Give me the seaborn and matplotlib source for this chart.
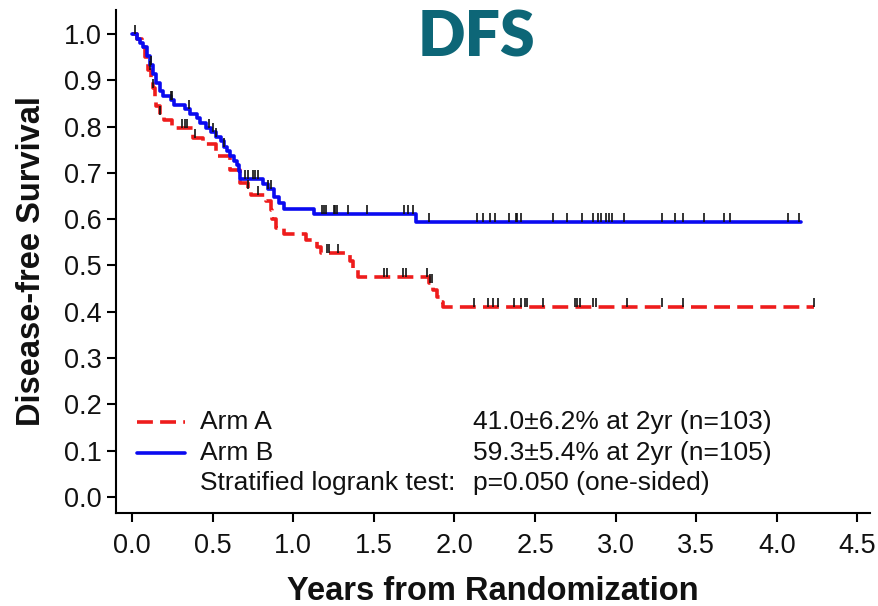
import numpy as np
import pandas as pd
import matplotlib
matplotlib.use("Agg")
import matplotlib.pyplot as plt
from matplotlib.path import Path
import seaborn as sns

# Kaplan-Meier step estimates (years, survival after each event)
arm_a_times = [0.00, 0.03, 0.06, 0.08, 0.10, 0.12, 0.13, 0.14, 0.15, 0.17, 0.20,
               0.25, 0.38, 0.44, 0.52, 0.61, 0.67, 0.72, 0.74, 0.83, 0.86, 0.87,
               0.89, 0.94, 1.08, 1.15, 1.17, 1.35, 1.37, 1.40, 1.84, 1.87, 1.89,
               1.91, 1.93]
arm_a_surv = [1.000, 0.990, 0.971, 0.951, 0.922, 0.903, 0.884, 0.864, 0.845, 0.825,
              0.815, 0.796, 0.776, 0.762, 0.737, 0.706, 0.678, 0.665, 0.652, 0.640,
              0.620, 0.600, 0.580, 0.568, 0.555, 0.540, 0.527, 0.510, 0.490, 0.475,
              0.462, 0.447, 0.432, 0.421, 0.410]
arm_a_end = 4.23
arm_a_censor = [0.11, 0.13, 0.17, 0.31, 0.33, 0.34, 0.39, 0.72, 0.78, 1.21, 1.22,
                1.28, 1.56, 1.58, 1.68, 1.70, 1.83, 1.85, 1.86, 2.12, 2.21, 2.24,
                2.27, 2.37, 2.41, 2.44, 2.45, 2.55, 2.75, 2.76, 2.78, 2.86, 2.88,
                3.07, 3.29, 3.42, 4.23]

arm_b_times = [0.00, 0.03, 0.05, 0.07, 0.09, 0.11, 0.13, 0.15, 0.17, 0.19, 0.24,
               0.26, 0.33, 0.36, 0.40, 0.42, 0.46, 0.49, 0.52, 0.55, 0.57, 0.59,
               0.61, 0.63, 0.65, 0.66, 0.67, 0.81, 0.84, 0.88, 0.91, 0.94, 1.13,
               1.76]
arm_b_surv = [1.000, 0.990, 0.981, 0.971, 0.952, 0.933, 0.914, 0.895, 0.876, 0.866,
              0.857, 0.847, 0.838, 0.828, 0.818, 0.808, 0.798, 0.788, 0.778, 0.768,
              0.757, 0.747, 0.737, 0.726, 0.716, 0.705, 0.687, 0.676, 0.665, 0.648,
              0.635, 0.622, 0.611, 0.593]
arm_b_end = 4.15
arm_b_censor = [0.02, 0.12, 0.24, 0.25, 0.35, 0.48, 0.50, 0.52, 0.57, 0.70, 0.72,
                0.75, 0.76, 0.78, 0.84, 0.86, 1.18, 1.19, 1.20, 1.25, 1.26, 1.27,
                1.34, 1.46, 1.69, 1.71, 1.745, 1.84, 2.14, 2.18, 2.22, 2.25, 2.34,
                2.38, 2.39, 2.41, 2.61, 2.70, 2.79, 2.86, 2.89, 2.91, 2.94, 2.96,
                2.98, 3.05, 3.29, 3.37, 3.42, 3.55, 3.67, 3.71, 4.07, 4.14]

x_ticks = [0.0, 0.5, 1.0, 1.5, 2.0, 2.5, 3.0, 3.5, 4.0, 4.5]
y_ticks = [0.0, 0.1, 0.2, 0.3, 0.4, 0.5, 0.6, 0.7, 0.8, 0.9, 1.0]

legend_rows = [("Arm A", "41.0\u00b16.2% at 2yr (n=103)"),
               ("Arm B", "59.3\u00b15.4% at 2yr (n=105)"),
               ("Stratified logrank test:", "p=0.050 (one-sided)")]

RED = "#ee1c1c"
BLUE = "#0a0af0"
INK = "#111111"


def step_frame(times, surv, end):
    t = list(times) + [end]
    s = list(surv) + [surv[-1]]
    return pd.DataFrame({"t": t, "s": s})


def censor_frame(times, surv, censor):
    times = np.asarray(times)
    surv = np.asarray(surv)
    idx = np.searchsorted(times, np.asarray(censor), side="right") - 1
    return pd.DataFrame({"t": censor, "s": surv[idx]})


sns.set_theme(style="ticks")
plt.rcParams["font.family"] = ["Liberation Sans", "DejaVu Sans"]

fig = plt.figure(figsize=(8.79, 6.06), dpi=100)
ax = fig.add_axes([0.132, 0.1535, 0.858, 0.830])

tick_marker = Path([(0, 0), (0, 1)])

for times, surv, end, cens, color, ls in [
        (arm_a_times, arm_a_surv, arm_a_end, arm_a_censor, RED, (0, (4.4, 2.0))),
        (arm_b_times, arm_b_surv, arm_b_end, arm_b_censor, BLUE, "-")]:
    sns.lineplot(data=step_frame(times, surv, end), x="t", y="s", ax=ax,
                 estimator=None, sort=False, drawstyle="steps-post",
                 color=color, linewidth=2.6, linestyle=ls)
    sns.scatterplot(data=censor_frame(times, surv, cens), x="t", y="s", ax=ax,
                    marker=tick_marker, s=160, color=INK,
                    linewidth=1.2, edgecolor=INK, zorder=3)

ax.set_xlim(-0.1, 4.58)
ax.set_ylim(-0.035, 1.052)
ax.set_xticks(x_ticks)
ax.set_xticklabels([f"{v:.1f}" for v in x_ticks])
ax.set_yticks(y_ticks)
ax.set_yticklabels([f"{v:.1f}" for v in y_ticks])
ax.tick_params(axis="both", direction="out", length=6.5, width=1.5,
               colors="black", labelcolor=INK, labelsize=19.5)
ax.tick_params(axis="x", pad=8)
ax.tick_params(axis="y", pad=4)
for side in ("top", "right"):
    ax.spines[side].set_visible(False)
for side in ("left", "bottom"):
    ax.spines[side].set_linewidth(1.5)
    ax.spines[side].set_color("black")

ax.set_xlabel("Years from Randomization", fontsize=23.5, fontweight="bold",
              labelpad=12, color=INK)
ax.set_ylabel("Disease-free Survival", fontsize=23.5, fontweight="bold",
              labelpad=12, color=INK)

# legend block drawn in axes coordinates
row_y = [0.181, 0.119, 0.060]
ax.plot([0.028, 0.0915], [row_y[0]] * 2, transform=ax.transAxes, color=RED,
        linewidth=2.6, linestyle=(0, (4.4, 2.0)))
ax.plot([0.028, 0.0915], [row_y[1]] * 2, transform=ax.transAxes, color=BLUE,
        linewidth=2.6)
for (left, right), yy in zip(legend_rows, row_y):
    ax.text(0.111, yy, left, transform=ax.transAxes, fontsize=19,
            va="center", ha="left", color=INK)
    ax.text(0.4735, yy, right, transform=ax.transAxes, fontsize=19,
            va="center", ha="left", color=INK)

fig.text(0.542, 0.937, "DFS", fontsize=45, fontweight="heavy",
         color="#0d6677", ha="center", va="center", family=["Lato", "DejaVu Sans"])

fig.savefig("out.png", dpi=100, facecolor="white")
